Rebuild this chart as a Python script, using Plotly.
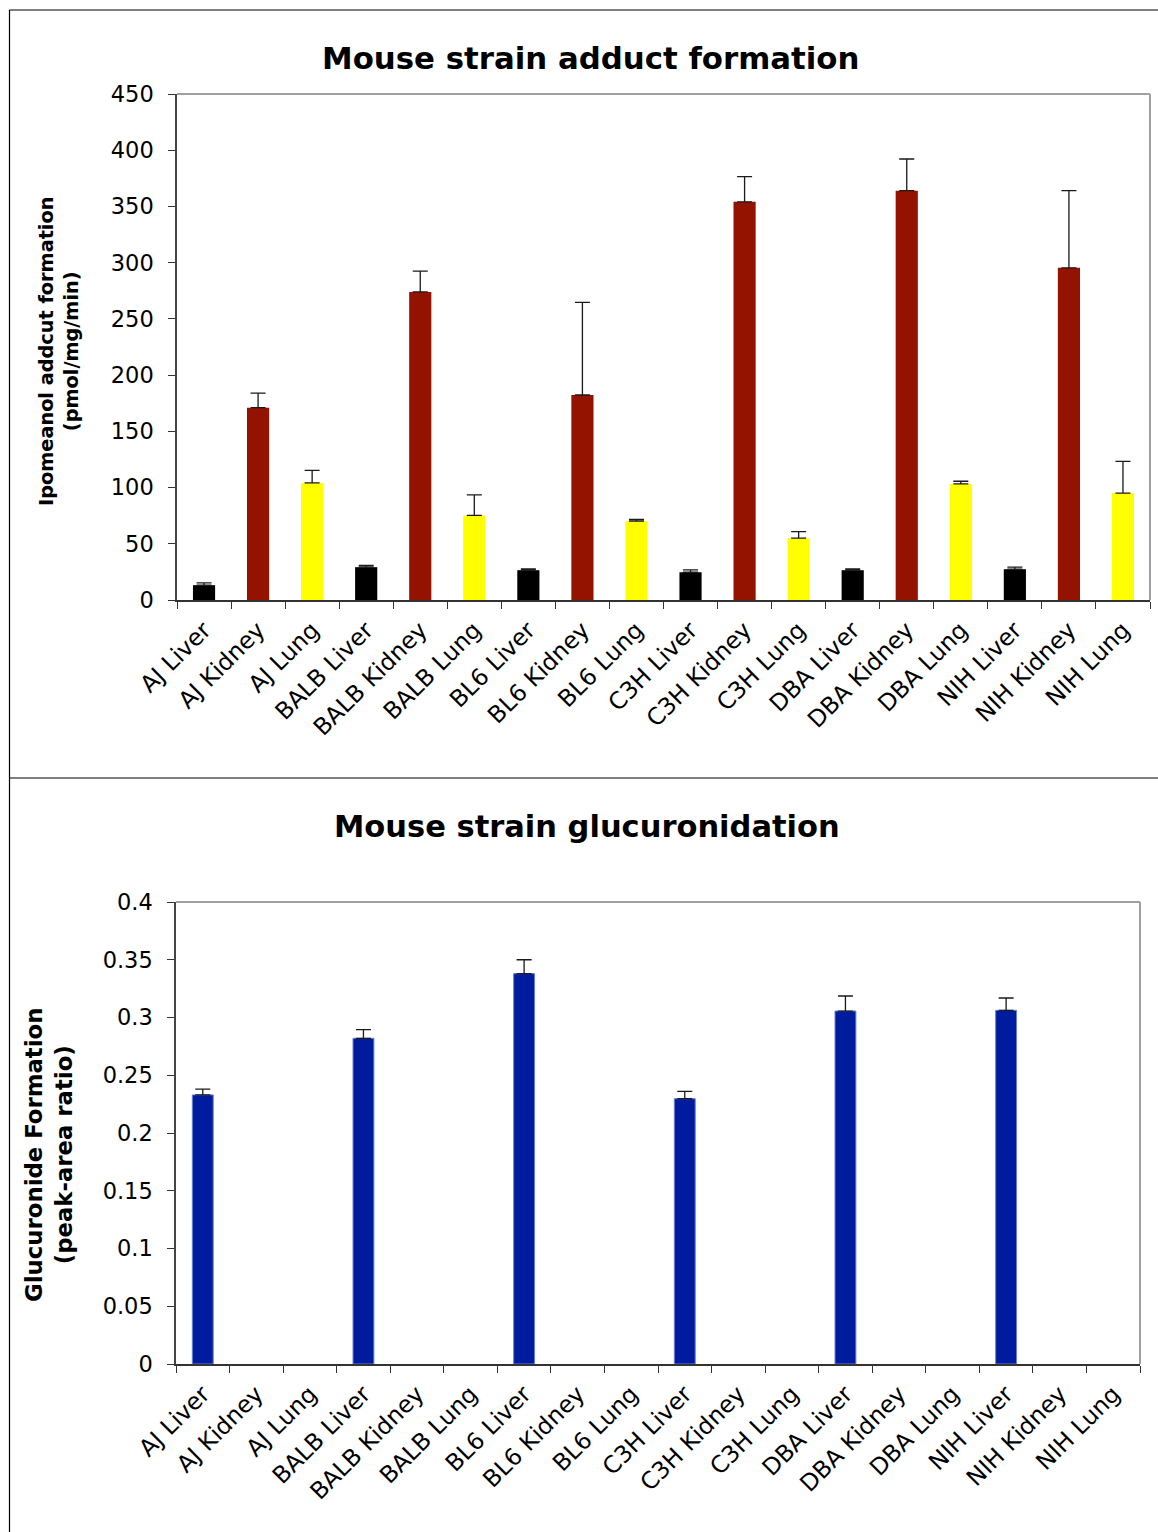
import plotly.graph_objects as go

W, H = 1158, 1532

categories = ["AJ Liver", "AJ Kidney", "AJ Lung",
              "BALB Liver", "BALB Kidney", "BALB Lung",
              "BL6 Liver", "BL6 Kidney", "BL6 Lung",
              "C3H Liver", "C3H Kidney", "C3H Lung",
              "DBA Liver", "DBA Kidney", "DBA Lung",
              "NIH Liver", "NIH Kidney", "NIH Lung"]

# Ipomeanol adduct formation (pmol/mg/min), mean and upper error
adduct = [13.2, 171.0, 104.1, 29.2, 274.0, 75.2, 26.5, 182.3, 70.1,
          24.7, 354.1, 55.0, 26.5, 364.0, 103.2, 27.4, 295.4, 95.1]
adduct_err = [2.1, 12.9, 11.1, 1.5, 18.4, 18.3, 1.2, 82.4, 1.5,
              2.1, 22.5, 5.8, 1.2, 28.2, 2.4, 1.8, 68.6, 28.2]

# Glucuronide formation (peak-area ratio), liver only
gluc = [0.233, None, None, 0.282, None, None, 0.338, None, None,
        0.2297, None, None, 0.3056, None, None, 0.3062, None, None]
gluc_err = [0.005, None, None, 0.0075, None, None, 0.012, None, None,
            0.0063, None, None, 0.013, None, None, 0.0107, None, None]

adduct_ticks = [0, 50, 100, 150, 200, 250, 300, 350, 400, 450]
gluc_ticks = [0, 0.05, 0.1, 0.15, 0.2, 0.25, 0.3, 0.35, 0.4]
gluc_ticktext = ["0", "0.05", "0.1", "0.15", "0.2", "0.25", "0.3", "0.35", "0.4"]

tissue_colors = {"Liver": "#000000", "Kidney": "#931200", "Lung": "#FFFF00"}
adduct_colors = [tissue_colors[c.split()[-1]] for c in categories]

FONT = "DejaVu Sans, Verdana, sans-serif"


def px_x(x):
    return x / W


def px_y(y):
    return 1 - y / H


# plot-area rectangles in pixels: (left, top, right, bottom)
top_box = (177, 94, 1150, 600)
bot_box = (176, 902, 1140, 1364)

fig = go.Figure()

fig.add_trace(go.Bar(
    x=categories, y=adduct, marker=dict(color=adduct_colors, line=dict(width=0)),
    width=0.41,
    error_y=dict(type="data", array=adduct_err, arrayminus=[0] * len(adduct),
                 symmetric=False, color="#1A1A1A", thickness=1.3, width=7.5),
    xaxis="x", yaxis="y", showlegend=False,
))

fig.add_trace(go.Bar(
    x=categories, y=gluc, marker=dict(color="#001C9E", line=dict(color="#6A80D4", width=1)),
    width=0.39,
    error_y=dict(type="data", array=gluc_err, arrayminus=[0] * len(gluc),
                 symmetric=False, color="#1A1A1A", thickness=1.3, width=7.5),
    xaxis="x2", yaxis="y2", showlegend=False,
))

x_tick_font = dict(family=FONT, size=23.5, color="#000000")
y_tick_font = dict(family=FONT, size=22.5, color="#000000")

xaxis_common = dict(
    type="category", categoryorder="array", categoryarray=categories,
    tickangle=-45, tickfont=x_tick_font, ticks="outside", tickson="boundaries",
    ticklen=7, tickcolor="#333333", showline=True, linecolor="#333333",
    linewidth=2, showgrid=False, zeroline=False, fixedrange=True,
    automargin=False, ticklabelstandoff=5,
)
yaxis_common = dict(
    tickfont=y_tick_font, ticks="outside", ticklen=7, tickcolor="#333333",
    showline=True, linecolor="#444444", linewidth=1.5, showgrid=False,
    zeroline=False, fixedrange=True, automargin=False, ticklabelstandoff=10,
)

fig.update_layout(
    template="none",
    width=W, height=H,
    margin=dict(l=0, r=0, t=0, b=0, pad=0),
    paper_bgcolor="white", plot_bgcolor="white",
    bargap=0.5,
    xaxis=dict(domain=[px_x(top_box[0]), px_x(top_box[2])], anchor="y", **xaxis_common),
    yaxis=dict(domain=[px_y(top_box[3]), px_y(top_box[1])], anchor="x",
               range=[0, 450], tickvals=adduct_ticks, **yaxis_common),
    xaxis2=dict(domain=[px_x(bot_box[0]), px_x(bot_box[2])], anchor="y2", **xaxis_common),
    yaxis2=dict(domain=[px_y(bot_box[3]), px_y(bot_box[1])], anchor="x2",
                range=[0, 0.4], tickvals=gluc_ticks, ticktext=gluc_ticktext,
                **yaxis_common),
)

shapes = []
# grey top and right frame lines of each plot area
for (l, t, r, b) in (top_box, bot_box):
    shapes.append(dict(type="line", xref="paper", yref="paper",
                       x0=px_x(l), x1=px_x(r), y0=px_y(t), y1=px_y(t),
                       line=dict(color="#A0A0A0", width=2)))
    shapes.append(dict(type="line", xref="paper", yref="paper",
                       x0=px_x(r), x1=px_x(r), y0=px_y(t), y1=px_y(b),
                       line=dict(color="#A0A0A0", width=2)))
# panel outlines
shapes.append(dict(type="line", xref="paper", yref="paper",
                   x0=px_x(9.5), x1=1, y0=px_y(10), y1=px_y(10),
                   line=dict(color="#000000", width=1.2)))
shapes.append(dict(type="line", xref="paper", yref="paper",
                   x0=px_x(9.5), x1=px_x(9.5), y0=px_y(10), y1=0,
                   line=dict(color="#000000", width=1.2)))
shapes.append(dict(type="line", xref="paper", yref="paper",
                   x0=px_x(9.5), x1=1, y0=px_y(778), y1=px_y(778),
                   line=dict(color="#000000", width=1.2)))
fig.update_layout(shapes=shapes)

annotations = [
    dict(text="<b>Mouse strain adduct formation</b>", x=px_x(590), y=px_y(58),
         font=dict(family=FONT, size=30.8, color="#000000")),
    dict(text="<b>Mouse strain glucuronidation</b>", x=px_x(586.5), y=px_y(826),
         font=dict(family=FONT, size=30.5, color="#000000")),
    dict(text="<b>Ipomeanol addcut formation<br>(pmol/mg/min)</b>", x=px_x(59), y=px_y(352),
         textangle=-90, font=dict(family=FONT, size=19.3, color="#000000")),
    dict(text="<b>Glucuronide Formation<br>(peak-area ratio)</b>", x=px_x(49), y=px_y(1155),
         textangle=-90, font=dict(family=FONT, size=22.8, color="#000000")),
]
for a in annotations:
    a.update(xref="paper", yref="paper", xanchor="center", yanchor="middle",
             showarrow=False)
fig.update_layout(annotations=annotations)

fig.write_html("out.html")
